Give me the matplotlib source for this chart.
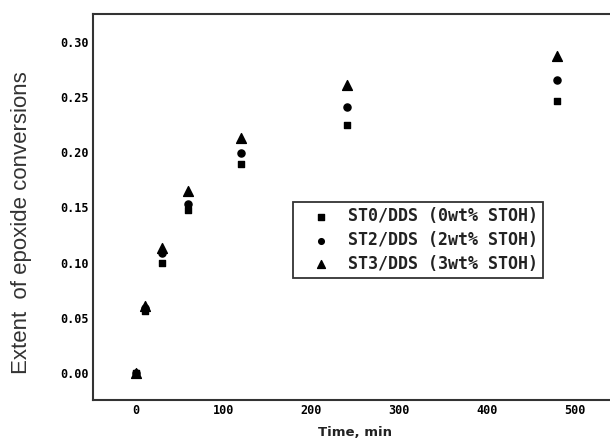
import numpy as np
import matplotlib
matplotlib.use("Agg")
from matplotlib import pyplot as plt

# reaction time (min) and extent of epoxide conversion for each system
time_min = [0, 10, 30, 60, 120, 240, 480]
st0_dds = [0.000, 0.056, 0.100, 0.148, 0.189, 0.225, 0.246]
st2_dds = [0.000, 0.059, 0.109, 0.153, 0.199, 0.241, 0.265]
st3_dds = [0.000, 0.061, 0.113, 0.165, 0.213, 0.261, 0.287]
series_labels = ["ST0/DDS (0wt% STOH)", "ST2/DDS (2wt% STOH)", "ST3/DDS (3wt% STOH)"]

x_ticks = [0, 100, 200, 300, 400, 500]
y_ticks = [0.00, 0.05, 0.10, 0.15, 0.20, 0.25, 0.30]

fig = plt.figure(figsize=(6.1, 4.42), dpi=100)
ax = fig.add_axes([0.152, 0.095, 0.848, 0.873])

ax.scatter(time_min, st0_dds, marker="s", s=22, color="black", label=series_labels[0])
ax.scatter(time_min, st2_dds, marker="o", s=26, color="black", label=series_labels[1])
ax.scatter(time_min, st3_dds, marker="^", s=50, color="black", label=series_labels[2])

ax.set_xlim(-49, 540)
ax.set_ylim(-0.0245, 0.325)
ax.set_xticks(x_ticks)
ax.set_yticks(y_ticks)
ax.set_yticklabels([f"{v:.2f}" for v in y_ticks])
ax.tick_params(length=0, labelsize=8.5)
ax.tick_params(axis="y", pad=2.5)
ax.tick_params(axis="x", pad=3)
for lab in ax.get_xticklabels() + ax.get_yticklabels():
    lab.set_fontweight("bold")
    lab.set_family("DejaVu Sans Mono")

for side in ["left", "top", "bottom"]:
    ax.spines[side].set_linewidth(1.5)
    ax.spines[side].set_color("#333333")
ax.spines["right"].set_visible(False)

ax.set_ylabel("Extent  of epoxide conversions", fontsize=16,
              family="Liberation Sans", color="#333333")
ax.yaxis.set_label_coords(-0.118, 0.461)
ax.set_xlabel("Time, min", fontsize=9.5, fontweight="bold", color="#222222")
ax.xaxis.set_label_coords(0.507, -0.067)

leg = ax.legend(loc="upper left", bbox_to_anchor=(0.387, 0.513), borderaxespad=0,
                frameon=True, fancybox=False, edgecolor="#333333",
                handletextpad=0.2, handlelength=2.8, borderpad=0.3,
                labelspacing=0.35, framealpha=1, markerscale=0.8,
                prop={"family": "DejaVu Sans Mono", "weight": "bold", "size": 12})
leg.get_frame().set_linewidth(1.3)
for t in leg.get_texts():
    t.set_color("#222222")

plt.savefig("out.png", dpi=100)
